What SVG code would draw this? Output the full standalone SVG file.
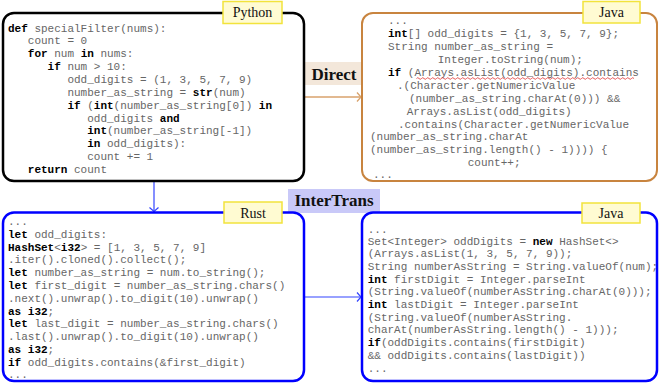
<svg xmlns="http://www.w3.org/2000/svg" width="659" height="385" viewBox="0 0 659 385">
<style>
.c{font-family:"Liberation Mono","DejaVu Sans Mono",monospace;font-size:11px;fill:#666;white-space:pre}
.k{font-weight:bold;fill:#000}
.lbl{fill:#fffbd2;stroke:#f2e33c;stroke-width:1.5}
.lt{font-family:"Liberation Serif","Times New Roman",serif;font-size:14px;fill:#111;text-anchor:middle}
.et{font-family:"Liberation Serif","Times New Roman",serif;font-size:17px;font-weight:bold;fill:#111;text-anchor:middle}
.box{fill:#fff}
</style>
<defs>
<marker id="ahB" markerUnits="userSpaceOnUse" markerWidth="12" markerHeight="12" refX="5" refY="5" orient="auto" viewBox="0 0 12 12">
<path d="M1,0.5 L5,5 L1,9.5" fill="none" stroke="#3344ff" stroke-width="1.2"/>
</marker>
<marker id="ahD" markerUnits="userSpaceOnUse" markerWidth="12" markerHeight="12" refX="5" refY="5" orient="auto" viewBox="0 0 12 12">
<path d="M1,0.5 L5,5 L1,9.5" fill="none" stroke="#d8a26c" stroke-width="1.3"/>
</marker>
</defs>
<rect width="659" height="385" fill="#fff"/>

<g id="connectors">
<line x1="305" y1="97" x2="361" y2="97" stroke="#d8a26c" stroke-width="1.5" marker-end="url(#ahD)"/>
<line x1="154" y1="181" x2="154" y2="211.5" stroke="#3344ff" stroke-width="1.2" marker-end="url(#ahB)"/>
<line x1="304" y1="297" x2="361" y2="297" stroke="#3344ff" stroke-width="1.2" marker-end="url(#ahB)"/>
<g id="direct-label">
<rect x="305" y="62" width="58" height="23" fill="#f3e7da"/>
<text class="et" x="334" y="80">Direct</text>
</g>
<g id="intertrans-label">
<rect x="288" y="189" width="92" height="24" fill="#c9c9f8"/>
<text class="et" x="334" y="206">InterTrans</text>
</g>
</g>

<g id="python">
<rect class="box" x="3" y="13" width="301" height="168" rx="11" stroke="#000" stroke-width="2.5"/>
<rect class="lbl" x="223" y="1.5" width="59" height="22"/>
<text class="lt" x="252.5" y="17">Python</text>
<text class="c" x="8" y="31.5"><tspan class="k">def</tspan> specialFilter(nums):</text>
<text class="c" x="27.8" y="44.4">count = 0</text>
<text class="c" x="27.8" y="57.2"><tspan class="k">for</tspan> num <tspan class="k">in</tspan> nums:</text>
<text class="c" x="47.6" y="70.1"><tspan class="k">if</tspan> num &gt; 10:</text>
<text class="c" x="67.4" y="82.9">odd_digits = (1, 3, 5, 7, 9)</text>
<text class="c" x="67.4" y="95.8">number_as_string = <tspan class="k">str</tspan>(num)</text>
<text class="c" x="67.4" y="108.6"><tspan class="k">if</tspan> (<tspan class="k">int</tspan>(number_as_string[0]) <tspan class="k">in</tspan></text>
<text class="c" x="87.2" y="121.5">odd_digits <tspan class="k">and</tspan></text>
<text class="c" x="87.2" y="134.3"><tspan class="k">int</tspan>(number_as_string[-1])</text>
<text class="c" x="87.2" y="147.2"><tspan class="k">in</tspan> odd_digits):</text>
<text class="c" x="87.2" y="160">count += 1</text>
<text class="c" x="27.8" y="172.9"><tspan class="k">return</tspan> count</text>
</g>

<g id="java-direct">
<rect class="box" x="362" y="13" width="295" height="168" rx="11" stroke="#c8843f" stroke-width="2"/>
<rect class="lbl" x="583" y="1.5" width="57" height="21.5"/>
<text class="lt" x="611.5" y="17">Java</text>
<text class="c" x="388" y="24.3">...</text>
<text class="c" x="388" y="37.2"><tspan class="k">int</tspan>[] odd_digits = {1, 3, 5, 7, 9};</text>
<text class="c" x="388" y="50.1">String number_as_string =</text>
<text class="c" x="437.7" y="63">Integer.toString(num);</text>
<text class="c" x="388" y="75.9"><tspan class="k">if</tspan> (Arrays.asList(odd_digits).contains</text>
<path d="M416.5,78.5 q1.25,-1.6 2.5,0 t2.5,0 t2.5,0 t2.5,0 t2.5,0 t2.5,0 t2.5,0 t2.5,0 t2.5,0 t2.5,0 t2.5,0 t2.5,0 t2.5,0 t2.5,0 t2.5,0 t2.5,0 t2.5,0 t2.5,0 t2.5,0 t2.5,0 t2.5,0 t2.5,0 t2.5,0 t2.5,0 t2.5,0 t2.5,0 t2.5,0 t2.5,0 t2.5,0 t2.5,0 t2.5,0 t2.5,0 t2.5,0 t2.5,0 t2.5,0 t2.5,0 t2.5,0 t2.5,0 t2.5,0 t2.5,0 t2.5,0 t2.5,0 t2.5,0 t2.5,0 t2.5,0 t2.5,0 t2.5,0 t2.5,0 t2.5,0 t2.5,0 t2.5,0 t2.5,0 t2.5,0 t2.5,0 t2.5,0 t2.5,0 t2.5,0 t2.5,0 t2.5,0 t2.5,0 t2.5,0 t2.5,0 t2.5,0 t2.5,0 t2.5,0 t2.5,0 t2.5,0 t2.5,0 t2.5,0 t2.5,0 t2.5,0 t2.5,0 t2.5,0 t2.5,0 t2.5,0 t2.5,0 t2.5,0 t2.5,0 t2.5,0 t2.5,0 t2.5,0 t2.5,0 t2.5,0 t2.5,0 t2.5,0 t2.5,0 t2.5,0" fill="none" stroke="#e03030" stroke-width="0.8"/>
<text class="c" x="397" y="88.8">.(Character.getNumericValue</text>
<text class="c" x="409" y="101.7">(number_as_string.charAt(0))) &amp;&amp;</text>
<text class="c" x="406.7" y="114.6">Arrays.asList(odd_digits)</text>
<text class="c" x="398" y="127.5">.contains(Character.getNumericValue</text>
<text class="c" x="370" y="140.4">(number_as_string.charAt</text>
<text class="c" x="370" y="153.3">(number_as_string.length() - 1)))) {</text>
<text class="c" x="467.7" y="166.2">count++;</text>
<text class="c" x="373" y="178">...</text>
</g>

<g id="rust">
<rect class="box" x="3" y="212.5" width="301" height="168.5" rx="11" stroke="#0000ff" stroke-width="2.5"/>
<rect class="lbl" x="224" y="202" width="58" height="21"/>
<text class="lt" x="253" y="217.5">Rust</text>
<text class="c" x="8" y="225">...</text>
<text class="c" x="8" y="237.8"><tspan class="k">let</tspan> odd_digits:</text>
<text class="c" x="8" y="250.6"><tspan class="k">HashSet</tspan>&lt;<tspan class="k">i32</tspan>&gt; = [1, 3, 5, 7, 9]</text>
<text class="c" x="8" y="263.4">.iter().cloned().collect();</text>
<text class="c" x="8" y="276.2"><tspan class="k">let</tspan> number_as_string = num.to_string();</text>
<text class="c" x="8" y="289"><tspan class="k">let</tspan> first_digit = number_as_string.chars()</text>
<text class="c" x="8" y="301.8">.next().unwrap().to_digit(10).unwrap()</text>
<text class="c" x="8" y="314.6"><tspan class="k">as i32</tspan>;</text>
<text class="c" x="8" y="327.4"><tspan class="k">let</tspan> last_digit = number_as_string.chars()</text>
<text class="c" x="8" y="340.2">.last().unwrap().to_digit(10).unwrap()</text>
<text class="c" x="8" y="353"><tspan class="k">as i32</tspan>;</text>
<text class="c" x="8" y="365.8"><tspan class="k">if</tspan> odd_digits.contains(&amp;first_digit)</text>
<text class="c" x="8" y="378.3">...</text>
</g>

<g id="java-intertrans">
<rect class="box" x="362" y="212.5" width="295" height="168.5" rx="11" stroke="#0000ff" stroke-width="2.5"/>
<rect class="lbl" x="582" y="203" width="58" height="20"/>
<text class="lt" x="611" y="218">Java</text>
<text class="c" x="367.7" y="233">...</text>
<text class="c" x="367.7" y="244.5">Set&lt;Integer&gt; oddDigits = <tspan class="k">new</tspan> HashSet&lt;&gt;</text>
<text class="c" x="367.7" y="257.2">(Arrays.asList(1, 3, 5, 7, 9));</text>
<text class="c" x="367.7" y="269.8">String numberAsString = String.valueOf(num);</text>
<text class="c" x="367.7" y="282.5"><tspan class="k">int</tspan> firstDigit = Integer.parseInt</text>
<text class="c" x="367.7" y="295.2">(String.valueOf(numberAsString.charAt(0)));</text>
<text class="c" x="367.7" y="307.8"><tspan class="k">int</tspan> lastDigit = Integer.parseInt</text>
<text class="c" x="367.7" y="320.5">(String.valueOf(numberAsString.</text>
<text class="c" x="367.7" y="333.2">charAt(numberAsString.length() - 1)));</text>
<text class="c" x="367.7" y="345.8"><tspan class="k">if</tspan>(oddDigits.contains(firstDigit)</text>
<text class="c" x="367.7" y="358.5">&amp;&amp; oddDigits.contains(lastDigit))</text>
<text class="c" x="367.7" y="372">...</text>
</g>
</svg>
